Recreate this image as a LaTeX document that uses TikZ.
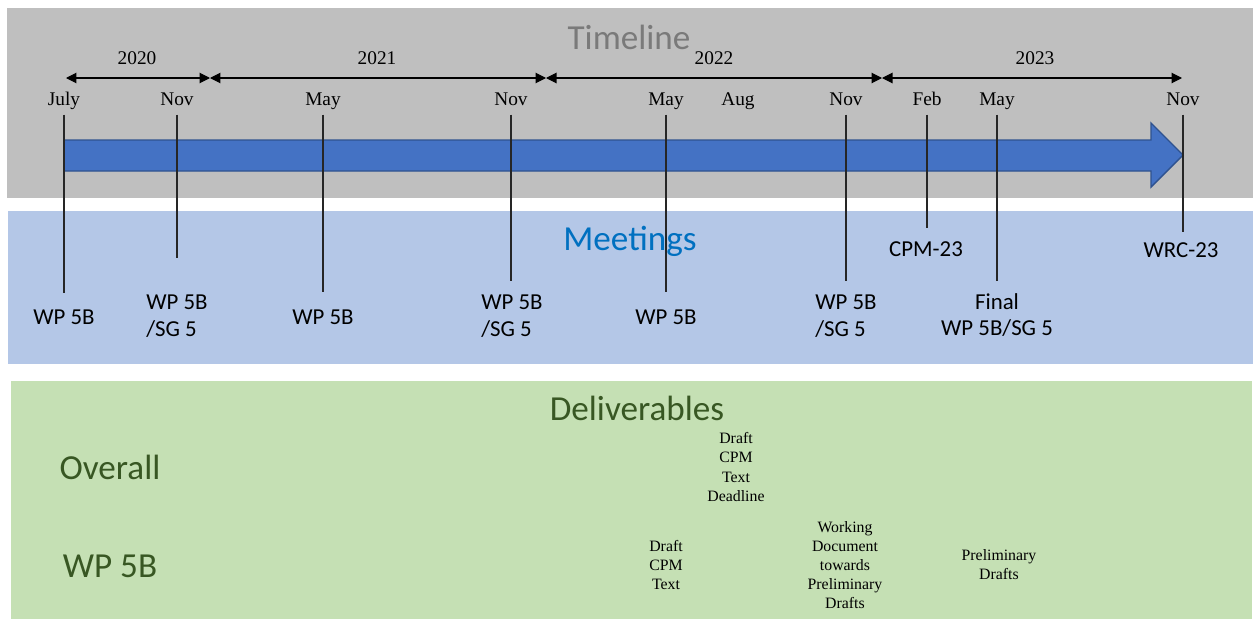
\documentclass[tikz,border=0pt]{standalone}
\usepackage{fontspec}
\setmainfont{Liberation Serif}
\setsansfont{Carlito}
\usetikzlibrary{arrows.meta}
\definecolor{bandgray}{HTML}{BFBFBF}
\definecolor{titlegray}{HTML}{7A7A7A}
\definecolor{barblue}{HTML}{4472C4}
\definecolor{baredge}{HTML}{2F528F}
\definecolor{meetband}{HTML}{B4C7E7}
\definecolor{meettext}{HTML}{0070C0}
\definecolor{delivband}{HTML}{C5E0B4}
\definecolor{delivtext}{HTML}{385723}

\tikzset{
	yearspan/.style={line width=0.6pt,{Triangle[length=0.21cm,width=0.21cm]}-{Triangle[length=0.21cm,width=0.21cm]}},
	yearlbl/.style={font=\fontsize{11}{13}\selectfont,anchor=base,inner sep=0pt},
	monthlbl/.style={font=\fontsize{11}{13}\selectfont,anchor=base,text depth=0.25em,inner xsep=0pt,inner ysep=0.1cm},
	tick/.style={line width=0.6pt,black!85},
	meetlbl/.style={font=\sffamily\fontsize{13}{15.3}\selectfont,inner sep=0pt},
	bigtitle/.style={font=\sffamily\fontsize{20}{24}\selectfont,inner sep=0pt},
	delivlbl/.style={font=\fontsize{9}{10.9}\selectfont,align=center,inner sep=0pt}
}

\begin{document}
\begin{tikzpicture}[x=0.02cm,y=-0.02cm]
	\useasboundingbox (0,0) rectangle (1259,619);
	\fill[bandgray] (7,8) rectangle (1253,198);
	\fill[meetband] (8,211) rectangle (1253,364);
	\fill[delivband] (11,381) rectangle (1252,619);

	\node[bigtitle,text=titlegray,anchor=base] (timeline) at (629,49) {Timeline};
	\node[bigtitle,text=meettext] (meetings) at (630,241) {Meetings};
	\node[bigtitle,text=delivtext] (deliverables) at (637,408) {Deliverables};

	\filldraw[fill=barblue,draw=baredge,line width=0.8pt] (64,140) -- (1151,140) -- (1151,123) -- (1183,155) -- (1151,187) -- (1151,171) -- (64,171) -- cycle;

	\coordinate (y0) at (66,78);
	\coordinate (y1) at (210,78);
	\coordinate (y2) at (546,78);
	\coordinate (y3) at (882,78);
	\coordinate (y4) at (1182,78);
	\draw[yearspan] (y0) -- (y1);
	\draw[yearspan] (y1) -- (y2);
	\draw[yearspan] (y2) -- (y3);
	\draw[yearspan] (y3) -- (y4);
	\node[yearlbl] (yr20) at (137,64) {2020};
	\node[yearlbl] (yr21) at (377,64) {2021};
	\node[yearlbl] (yr22) at (714,64) {2022};
	\node[yearlbl] (yr23) at (1035,64) {2023};

	\node[monthlbl] (aug) at (738,105) {Aug};
	\foreach \x/\m/\n/\e in {64/July/jul20/293,177/Nov/nov20/258,323/May/may21/292,511/Nov/nov21/281,666/May/may22/292,846/Nov/nov22/281,927/Feb/feb23/228,997/May/may23/281,1183/Nov/nov23/232}{
		\node[monthlbl] (\n) at (\x,105) {\m};
		\coordinate (\n-end) at (\x,\e);
		\draw[tick] (\n.south) -- (\n-end);
	}

	\node[meetlbl] (wp1) at (64,317) {WP 5B};
	\node[meetlbl,align=left] (wp2) at (177,316) {WP 5B\\/SG 5};
	\node[meetlbl] (wp3) at (323,317) {WP 5B};
	\node[meetlbl,align=left] (wp4) at (512,316) {WP 5B\\/SG 5};
	\node[meetlbl] (wp5) at (666,317) {WP 5B};
	\node[meetlbl,align=left] (wp6) at (846,316) {WP 5B\\/SG 5};
	\node[meetlbl] (cpm) at (926,249) {CPM-23};
	\node[meetlbl,align=center] (final) at (997,315) {Final\\WP 5B/SG 5};
	\node[meetlbl] (wrc) at (1181,250) {WRC-23};

	\node[bigtitle,text=delivtext] (overall) at (110,467) {Overall};
	\node[bigtitle,text=delivtext] (wpfive) at (110,566) {WP 5B};

	\node[delivlbl] (cpmdeadline) at (736,467) {Draft\\CPM\\Text\\Deadline};
	\node[delivlbl] (cpmdraft) at (666,565) {Draft\\CPM\\Text};
	\node[delivlbl] (workdoc) at (845,565) {Working\\Document\\towards\\Preliminary\\Drafts};
	\node[delivlbl] (prelim) at (999,565) {Preliminary\\Drafts};
\end{tikzpicture}
\end{document}
